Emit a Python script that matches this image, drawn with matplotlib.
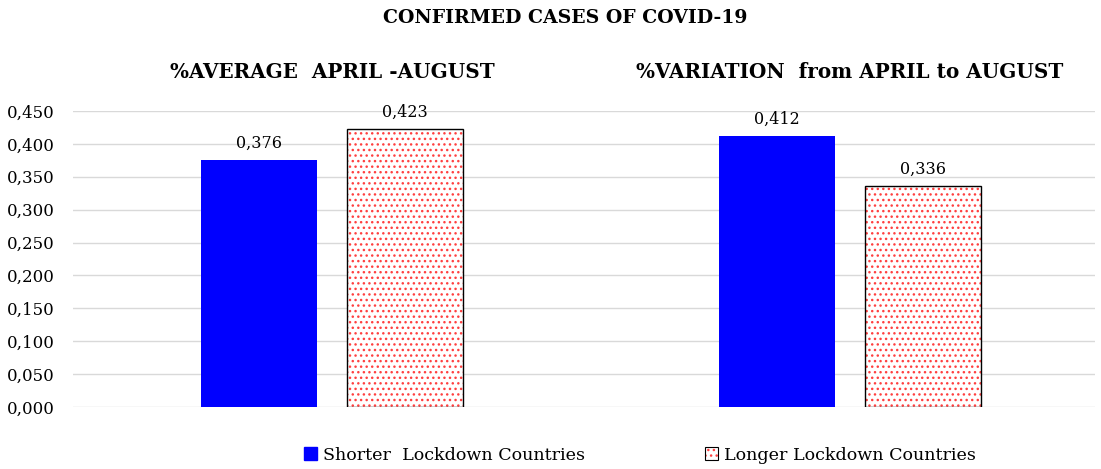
import matplotlib.pyplot as plt
import numpy as np
from matplotlib.patches import Patch

plt.rcParams['font.family'] = ['DejaVu Serif']

# data
groups = ["%AVERAGE  APRIL -AUGUST", "%VARIATION  from APRIL to AUGUST"]
series = ["Shorter  Lockdown Countries", "Longer Lockdown Countries"]
shorter = [0.376, 0.412]
longer = [0.423, 0.336]
yticks = [0.0, 0.05, 0.1, 0.15, 0.2, 0.25, 0.3, 0.35, 0.4, 0.45]

fig = plt.figure(figsize=(11.01, 4.69), dpi=100)
ax = fig.add_axes([73 / 1101, 1 - 407 / 469, 1022 / 1101, (407 - 111) / 469])

x = np.arange(len(groups))
w = 0.224
off = 0.141

ax.bar(x - off, shorter, w, color="#0000ff", zorder=3)
# hatched bars: red dots, black outline
ax.bar(x + off, longer, w, color="white", edgecolor="#ff4040", hatch="...",
       linewidth=0, zorder=3)
ax.bar(x + off, longer, w, fill=False, edgecolor="black", linewidth=1, zorder=4)

for i in range(len(groups)):
    ax.text(x[i] - off, shorter[i] + 0.012, f"{shorter[i]:.3f}".replace(".", ","),
            ha="center", va="bottom", fontsize=11.5)
    ax.text(x[i] + off, longer[i] + 0.012, f"{longer[i]:.3f}".replace(".", ","),
            ha="center", va="bottom", fontsize=11.5)
    ax.text(x[i], 0.51, groups[i], ha="center", va="center", fontsize=14.4,
            fontweight="bold")

ax.set_xlim(-0.5, 1.473)
ax.set_ylim(0, 0.45)
ax.set_yticks(yticks)
ax.set_yticklabels([f"{v:.3f}".replace(".", ",") for v in yticks], fontsize=12)
ax.tick_params(axis="y", length=0, pad=13)
ax.set_xticks([])
ax.grid(axis="y", color="#d9d9d9", linewidth=1, zorder=0)
for s in ax.spines.values():
    s.set_visible(False)

fig.text(565 / 1101, 1 - 18 / 469, "CONFIRMED CASES OF COVID-19", ha="center",
         va="center", fontsize=13.6, fontweight="bold")

handles = [Patch(facecolor="#0000ff", edgecolor="#0000ff"),
           (Patch(facecolor="white", edgecolor="#ff4040", hatch="...", linewidth=0),
            Patch(fill=False, edgecolor="black", linewidth=0.8))]
fig.legend(handles, series, loc="center", bbox_to_anchor=(640 / 1101, 1 - 455 / 469),
           ncol=2, frameon=False, fontsize=12.6, columnspacing=6.9,
           handlelength=0.7, handleheight=0.8, handletextpad=0.35)

plt.savefig("out.png", dpi=100)
